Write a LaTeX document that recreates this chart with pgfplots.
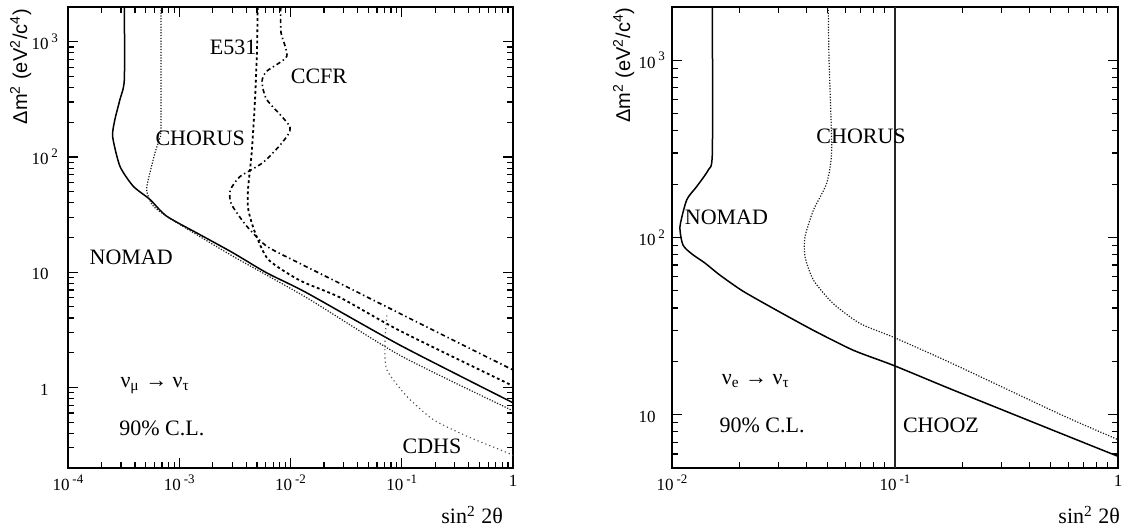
\documentclass[border=0pt]{standalone}
\usepackage{pgfplots}
\pgfplotsset{compat=1.18}
\usepackage{fontspec}
\setmainfont{Liberation Serif}
\newfontfamily\labsans{Liberation Sans}
\newcommand{\ex}[1]{\,\raisebox{0.42em}{\fontsize{6.5}{7}\selectfont #1}}
\tikzset{
  nomad/.style={black, line width=0.75pt, smooth, tension=0.4},
  chorus/.style={black!90, line width=0.6pt, dash pattern=on 0.6pt off 0.8pt, smooth, tension=0.4},
  e531/.style={black, line width=0.9pt, dash pattern=on 1.4pt off 1.4pt, smooth, tension=0.4},
  ccfr/.style={black, line width=0.8pt, dash pattern=on 2.2pt off 1.5pt on 0.7pt off 1.5pt, smooth, tension=0.4},
  cdhs/.style={black!70, line width=0.55pt, dash pattern=on 0.6pt off 1.5pt, smooth, tension=0.4},
  lab/.style={font=\fontsize{11}{12}\selectfont},
}

\begin{document}
\begin{tikzpicture}
\useasboundingbox (0,0) rectangle (564pt,265pt);

% ---------------- left panel ----------------
\begin{axis}[
  xmode=log, ymode=log, scale only axis, height=230.5pt, anchor=south west,
  axis line style={line width=0.8pt},
  major tick length=5pt, minor tick length=3pt,
  every tick/.style={black, line width=0.6pt},
  tick label style={font=\fontsize{8.5}{9}\selectfont},
  /pgf/number format/assume math mode=true,
  yticklabel style={xshift=-1.5pt},
  at={(34pt,31pt)}, width=222.5pt,
  xmin=1e-4, xmax=1, ymin=0.2, ymax=2000,
  xtick={1e-4,1e-3,1e-2,1e-1,1},
  xticklabels={{10\ex{-4}},{10\ex{-3}},{10\ex{-2}},{10\ex{-1}},{1}},
  minor xtick={2e-4,3e-4,4e-4,5e-4,6e-4,7e-4,8e-4,9e-4,2e-3,3e-3,4e-3,5e-3,6e-3,7e-3,8e-3,9e-3,0.02,0.03,0.04,0.05,0.06,0.07,0.08,0.09,0.2,0.3,0.4,0.5,0.6,0.7,0.8,0.9},
  ytick={1,10,100,1000},
  yticklabels={{1\phantom{\ex{3}}},{10\phantom{\ex{3}}},{10\ex{2}},{10\ex{3}}},
  minor ytick={0.2,0.3,0.4,0.5,0.6,0.7,0.8,0.9,2,3,4,5,6,7,8,9,20,30,40,50,60,70,80,90,200,300,400,500,600,700,800,900,2000},
  xlabel={sin\textsuperscript{2} 2θ},
  xlabel style={font=\fontsize{11}{12}\selectfont, at={(rel axis cs:0.993,-0.102)}, anchor=east},
  ylabel={\labsans\fontsize{10}{11}\selectfont Δm\textsuperscript{2} (eV\textsuperscript{2}/c\textsuperscript{4})},
  ylabel style={at={(rel axis cs:-0.092,0.871)}, anchor=base},
]
% NOMAD
\addplot[nomad] coordinates {(3.21e-4,2000) (3.21e-4,469) (2.93e-4,315) (2.64e-4,211) (2.52e-4,150) (2.93e-4,83) (3.86e-4,55.7) (5.46e-4,42.7) (7.71e-4,30.6) (1.53e-3,21.2) (3.05e-3,14.7) (6.1e-3,9.88) (0.01396,6.63) (0.0962,2.33) (0.936,0.76) (1,0.736)};
% CHORUS
\addplot[chorus] coordinates {(6.85e-4,2000) (6.85e-4,183) (6.62e-4,142) (6.06e-4,109) (5.27e-4,63.7) (5.10e-4,50.4) (5.85e-4,37.4) (8.85e-4,28.1) (3.06e-3,13.7) (0.0140,6.0) (0.0964,1.9) (0.94,0.645) (1,0.625)};
% E531
\addplot[e531] coordinates {(5.07e-3,2000) (5.0e-3,855) (4.80e-3,315) (4.48e-3,109) (4.15e-3,52.2) (4.17e-3,35.0) (4.80e-3,22.1) (6.31e-3,12.9) (0.01216,8.47) (0.0279,6.03) (0.0964,3.1) (0.94,1.06) (1,1.03)};
% CCFR
\addplot[ccfr] coordinates {(8.17e-3,2000) (8.22e-3,1199) (9.25e-3,747) (6.11e-3,554) (5.55e-3,451) (6.11e-3,315) (9.9e-3,182) (8.4e-3,133) (5.66e-3,89.4) (3.52e-3,67.6) (2.89e-3,52.2) (2.86e-3,42.7) (3.06e-3,36.4) (4.04e-3,25.1) (6.11e-3,16.8) (0.01216,11.9) (0.0279,7.98) (0.0964,4.38) (0.94,1.46) (1,1.43)};
% CDHS
\addplot[cdhs] coordinates {(0.0736,4.21) (0.0706,2.46) (0.0733,1.43) (0.1107,0.84) (0.191,0.528) (0.384,0.378) (0.877,0.273) (1,0.257)};

\node[lab] at (rel axis cs:0.371,0.913) {E531};
\node[lab] at (rel axis cs:0.564,0.850) {CCFR};
\node[lab] at (rel axis cs:0.297,0.716) {CHORUS};
\node[lab] at (rel axis cs:0.142,0.458) {NOMAD};
\node[lab] at (rel axis cs:0.196,0.178) {ν\textsubscript{μ} → ν\textsubscript{τ}};
\node[lab] at (rel axis cs:0.211,0.087) {90\% C.L.};
\node[lab] at (rel axis cs:0.818,0.046) {CDHS};
\end{axis}

% ---------------- right panel ----------------
\begin{axis}[
  xmode=log, ymode=log, scale only axis, height=230.5pt, anchor=south west,
  axis line style={line width=0.8pt},
  major tick length=5pt, minor tick length=3pt,
  every tick/.style={black, line width=0.6pt},
  tick label style={font=\fontsize{8.5}{9}\selectfont},
  /pgf/number format/assume math mode=true,
  at={(336pt,31pt)}, width=223pt,
  xmin=1e-2, xmax=1, ymin=5, ymax=2000,
  xtick={1e-2,1e-1,1},
  xticklabels={{10\ex{-2}},{10\ex{-1}},{1}},
  minor xtick={0.02,0.03,0.04,0.05,0.06,0.07,0.08,0.09,0.2,0.3,0.4,0.5,0.6,0.7,0.8,0.9},
  ytick={10,100,1000},
  yticklabels={{10\phantom{\ex{3}}},{10\ex{2}},{10\ex{3}}},
  minor ytick={6,7,8,9,20,30,40,50,60,70,80,90,200,300,400,500,600,700,800,900,2000},
  xlabel={sin\textsuperscript{2} 2θ},
  xlabel style={font=\fontsize{11}{12}\selectfont, at={(rel axis cs:1.020,-0.102)}, anchor=east},
  ylabel={\labsans\fontsize{10}{11}\selectfont Δm\textsuperscript{2} (eV\textsuperscript{2}/c\textsuperscript{4})},
  ylabel style={at={(rel axis cs:-0.094,0.874)}, anchor=base},
]
% CHOOZ
\addplot[black!85, line width=0.6pt] coordinates {(0.1,5) (0.1,2000)};
% NOMAD
\addplot[nomad] coordinates {(0.01517,2000) (0.01517,301) (0.01455,241) (0.01291,194) (0.01164,163) (0.01086,115) (0.01120,90.7) (0.01230,80.6) (0.01406,71.7) (0.01641,61.3) (0.02080,49.8) (0.0295,38.8) (0.0431,29.9) (0.065,23.1) (0.0982,19.0) (0.1766,14.0) (0.3515,9.87) (0.589,7.60) (0.986,5.86) (1,5.82)};
% CHORUS
\addplot[chorus] coordinates {(0.0502,2000) (0.0506,1014) (0.052,313) (0.0494,203) (0.0431,143) (0.0395,101) (0.0395,77.8) (0.0431,57.4) (0.0528,42.4) (0.0697,32.7) (0.0982,27.4) (0.1766,19.7) (0.3515,13.1) (0.589,9.66) (0.986,7.28) (1,7.22)};

\node[lab, anchor=west] at (rel axis cs:0.013,0.544) {NOMAD};
\node[lab] at (rel axis cs:0.424,0.720) {CHORUS};
\node[lab] at (rel axis cs:0.188,0.189) {ν\textsubscript{e} → ν\textsubscript{τ}};
\node[lab] at (rel axis cs:0.202,0.093) {90\% C.L.};
\node[lab] at (rel axis cs:0.603,0.093) {CHOOZ};
\end{axis}
\end{tikzpicture}
\end{document}
